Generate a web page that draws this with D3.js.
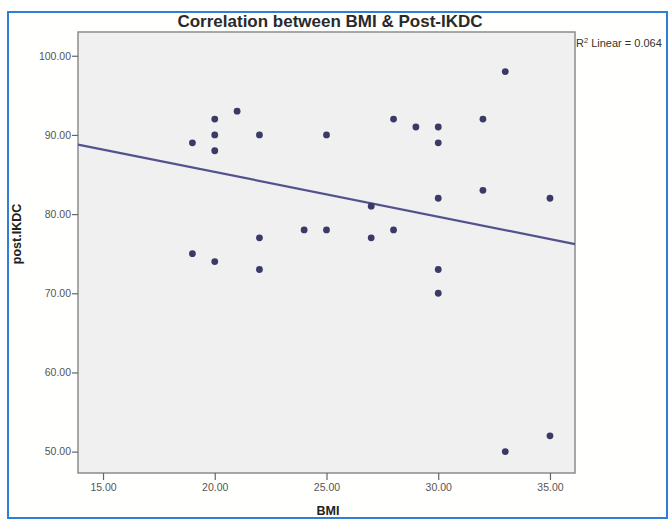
<!DOCTYPE html>
<html>
<head>
<meta charset="utf-8">
<script src="https://cdn.jsdelivr.net/npm/d3@7"></script>
<style>
  body { margin: 0; background: #fff; }
  text { font-family: Arial, "Liberation Sans", sans-serif; }
</style>
</head>
<body>
<script>
let w = 670;
let h = 519;

// data
let bmi =      [19, 19, 20, 20, 20, 20, 21, 22, 22, 22, 24, 25, 25, 27, 27, 28, 28, 29, 30, 30, 30, 30, 30, 32, 32, 33, 33, 35, 35];
let postIKDC = [89, 75, 92, 90, 88, 74, 93, 90, 77, 73, 78, 90, 78, 81, 77, 92, 78, 91, 91, 89, 82, 73, 70, 92, 83, 98, 50, 82, 52];
let xTicks = [15, 20, 25, 30, 35];
let yTicks = [50, 60, 70, 80, 90, 100];
let title = "Correlation between BMI & Post-IKDC";
let r2Text = "0.064";

let dataset = bmi.map((b, i) => ({ x: b, y: postIKDC[i] }));

// plot box
let pLeft = 78, pRight = 575, pTop = 32, pBottom = 473;

let xScale = d3.scaleLinear()
  .domain([13.88, 36.12])
  .range([pLeft, pRight]);

let yScale = d3.scaleLinear()
  .domain([47.3, 103.0])
  .range([pBottom, pTop]);

let svg = d3.select("body")
  .append("svg")
  .attr("width", w)
  .attr("height", h);

// outer window frame
svg.append("rect")
  .attr("x", 8).attr("y", 12)
  .attr("width", 659).attr("height", 506)
  .attr("fill", "#fffffd")
  .attr("stroke", "#2f7fd6")
  .attr("stroke-width", 2);

// plot background
svg.append("rect")
  .attr("x", pLeft).attr("y", pTop)
  .attr("width", pRight - pLeft).attr("height", pBottom - pTop)
  .attr("fill", "#f0f0f0")
  .attr("stroke", "#8c8c8c")
  .attr("stroke-width", 1.5);

// axes
let yAxis = d3.axisLeft(yScale)
  .tickValues(yTicks)
  .tickFormat(d3.format(".2f"))
  .tickSize(6)
  .tickPadding(1);

let xAxis = d3.axisBottom(xScale)
  .tickValues(xTicks)
  .tickFormat(d3.format(".2f"))
  .tickSize(7)
  .tickPadding(4);

let gy = svg.append("g")
  .attr("transform", "translate(" + pLeft + ",0)")
  .call(yAxis);

let gx = svg.append("g")
  .attr("transform", "translate(0," + pBottom + ")")
  .call(xAxis);

[gx, gy].forEach(g => {
  g.select(".domain").remove();
  g.selectAll("line").attr("stroke", "#666").attr("stroke-width", 1.2);
  g.selectAll("text")
    .attr("fill", "#555")
    .attr("font-size", "10.5px")
    .attr("font-family", "Arial, 'Liberation Sans', sans-serif");
});

// fit line (least squares on the points)
let mx = d3.mean(bmi), my = d3.mean(postIKDC);
let sxy = d3.sum(dataset, d => (d.x - mx) * (d.y - my));
let sxx = d3.sum(dataset, d => (d.x - mx) * (d.x - mx));
let slope = sxy / sxx;
let inter = my - slope * mx;
let xd = xScale.domain();

svg.append("line")
  .attr("x1", xScale(xd[0]))
  .attr("y1", yScale(inter + slope * xd[0]))
  .attr("x2", xScale(xd[1]))
  .attr("y2", yScale(inter + slope * xd[1]))
  .attr("stroke", "#52528e")
  .attr("stroke-width", 2.2);

// points
svg.selectAll("circle")
  .data(dataset)
  .enter()
  .append("circle")
  .attr("cx", d => xScale(d.x))
  .attr("cy", d => yScale(d.y))
  .attr("r", 3.4)
  .attr("fill", "#3a3a68");

// title
svg.append("text")
  .attr("x", 330)
  .attr("y", 27)
  .attr("text-anchor", "middle")
  .attr("font-size", "17px")
  .attr("font-weight", "bold")
  .attr("fill", "#2a2a2a")
  .text(title);

// R2 note
let r2 = svg.append("text")
  .attr("x", 576)
  .attr("y", 47)
  .attr("font-size", "11px")
  .attr("fill", "#333");
r2.append("tspan").text("R");
r2.append("tspan").attr("dy", -4).attr("font-size", "7.5px").text("2");
r2.append("tspan").attr("dy", 4).text(" Linear = " + r2Text);

// axis titles
svg.append("text")
  .attr("transform", "translate(21,234) rotate(-90)")
  .attr("text-anchor", "middle")
  .attr("font-size", "12.5px")
  .attr("font-weight", "bold")
  .attr("fill", "#222")
  .text("post.IKDC");

svg.append("text")
  .attr("x", 328)
  .attr("y", 515)
  .attr("text-anchor", "middle")
  .attr("font-size", "12.5px")
  .attr("font-weight", "bold")
  .attr("fill", "#222")
  .text("BMI");
</script>
</body>
</html>
